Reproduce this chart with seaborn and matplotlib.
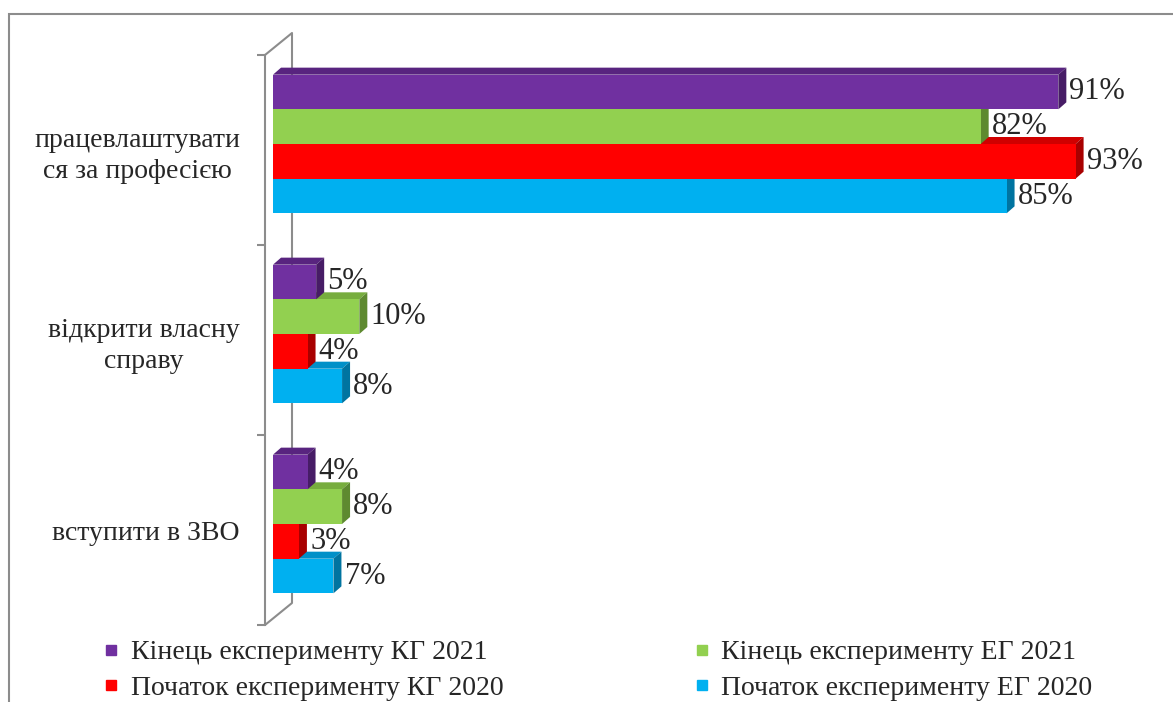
import matplotlib
matplotlib.use('Agg')
import matplotlib.pyplot as plt
from matplotlib.lines import Line2D
from matplotlib.patches import Polygon, Rectangle
import pandas as pd
import seaborn as sns

# data
categories = ['працевлаштувати\nся за професією', 'відкрити власну\nсправу', 'вступити в ЗВО']
series = ['Кінець експерименту КГ 2021', 'Кінець експерименту ЕГ 2021',
          'Початок експерименту КГ 2020', 'Початок експерименту ЕГ 2020']
kg_end = [91, 5, 4]
eg_end = [82, 10, 8]
kg_start = [93, 4, 3]
eg_start = [85, 8, 7]

colors = ['#7030A0', '#92D050', '#FF0000', '#00B0F0']
top_colors = ['#58247F', '#77AD3E', '#D00000', '#0090C8']
side_colors = ['#471C66', '#5E8A30', '#A80000', '#0074A0']

rows = []
for name, vals in zip(series, [kg_end, eg_end, kg_start, eg_start]):
    for c, v in zip(categories, vals):
        rows.append({'category': c, 'series': name, 'value': v})
df = pd.DataFrame(rows)

sns.set_style('white')
plt.rcParams['font.family'] = ['Liberation Serif', 'DejaVu Serif']

W, H = 1173, 702
fig = plt.figure(figsize=(W / 100, H / 100), dpi=100)
ax = fig.add_axes([265 / W, 77 / H, 871 / W, 570 / H])
sns.barplot(data=df, y='category', x='value', hue='series', orient='h',
            palette=colors, width=0.73, saturation=1, legend=False,
            linewidth=0, ax=ax)
ax.set_xlim(-0.93, 100)
ax.set_ylim(2.5, -0.5)

# pixel -> data sizes for the fake 3d depth
px_x = (ax.get_xlim()[1] - ax.get_xlim()[0]) / 871
px_y = 3.0 / 570
dx, dy = 8 * px_x, 7 * px_y
shift = 6 * px_y

for i, cont in enumerate(ax.containers):
    z = 10 - i
    for p in cont.patches:
        p.set_y(p.get_y() - shift)
        p.set_zorder(z)
        x0, y0, w, h = p.get_x(), p.get_y(), p.get_width(), p.get_height()
        top = Polygon([(x0, y0), (x0 + dx, y0 - dy), (x0 + w + dx, y0 - dy), (x0 + w, y0)],
                      closed=True, facecolor=top_colors[i], edgecolor='none', zorder=z - 0.5)
        side = Polygon([(x0 + w, y0), (x0 + w + dx, y0 - dy), (x0 + w + dx, y0 + h - dy), (x0 + w, y0 + h)],
                       closed=True, facecolor=side_colors[i], edgecolor='none', zorder=z - 0.5)
        ax.add_patch(top)
        ax.add_patch(side)
    ax.bar_label(cont, labels=[f'{v:g}%' for v in cont.datavalues], padding=8,
                 fontsize=22, zorder=20)

# axes styling
for s in ['top', 'right', 'bottom']:
    ax.spines[s].set_visible(False)
ax.spines['left'].set_color('#8c8c8c')
ax.spines['left'].set_linewidth(1.5)
ax.set_xticks([])
ax.set_xlabel('')
ax.set_ylabel('')
ax.set_yticks([-0.5, 0.5, 1.5, 2.5], minor=True)
ax.tick_params(axis='y', which='both', left=True)
ax.tick_params(axis='y', which='major', length=0, pad=18, labelsize=20)
ax.tick_params(axis='y', which='minor', length=6, width=1.5, color='#8c8c8c')
for t in ax.get_yticklabels():
    t.set_multialignment('center')
    t.set_linespacing(1.3)

# back wall outline
wx, wy = 27 / 871, 22 / 570
ax.plot([0, wx, wx, 0], [1, 1 + wy, wy, 0], transform=ax.transAxes,
        color='#8c8c8c', lw=1.5, clip_on=False, zorder=0)

# legend
order = [0, 2, 1, 3]
handles = [Line2D([], [], marker='s', ls='', color=colors[i], markersize=7) for i in order]
fig.legend(handles, [series[i] for i in order], loc='upper left',
           bbox_to_anchor=(103 / W, 1 - 640 / H), ncol=2, frameon=False,
           fontsize=20, columnspacing=6.85, handlelength=0.6, handletextpad=0.4,
           labelspacing=0.35, borderaxespad=0, borderpad=0)

# outer chart frame
fig.patches.append(Rectangle((9 / W, -0.1), 1.2, 1.1 - 14 / H, transform=fig.transFigure,
                             fill=False, edgecolor='#8c8c8c', lw=1.5))

fig.savefig('out.png', dpi=100)
